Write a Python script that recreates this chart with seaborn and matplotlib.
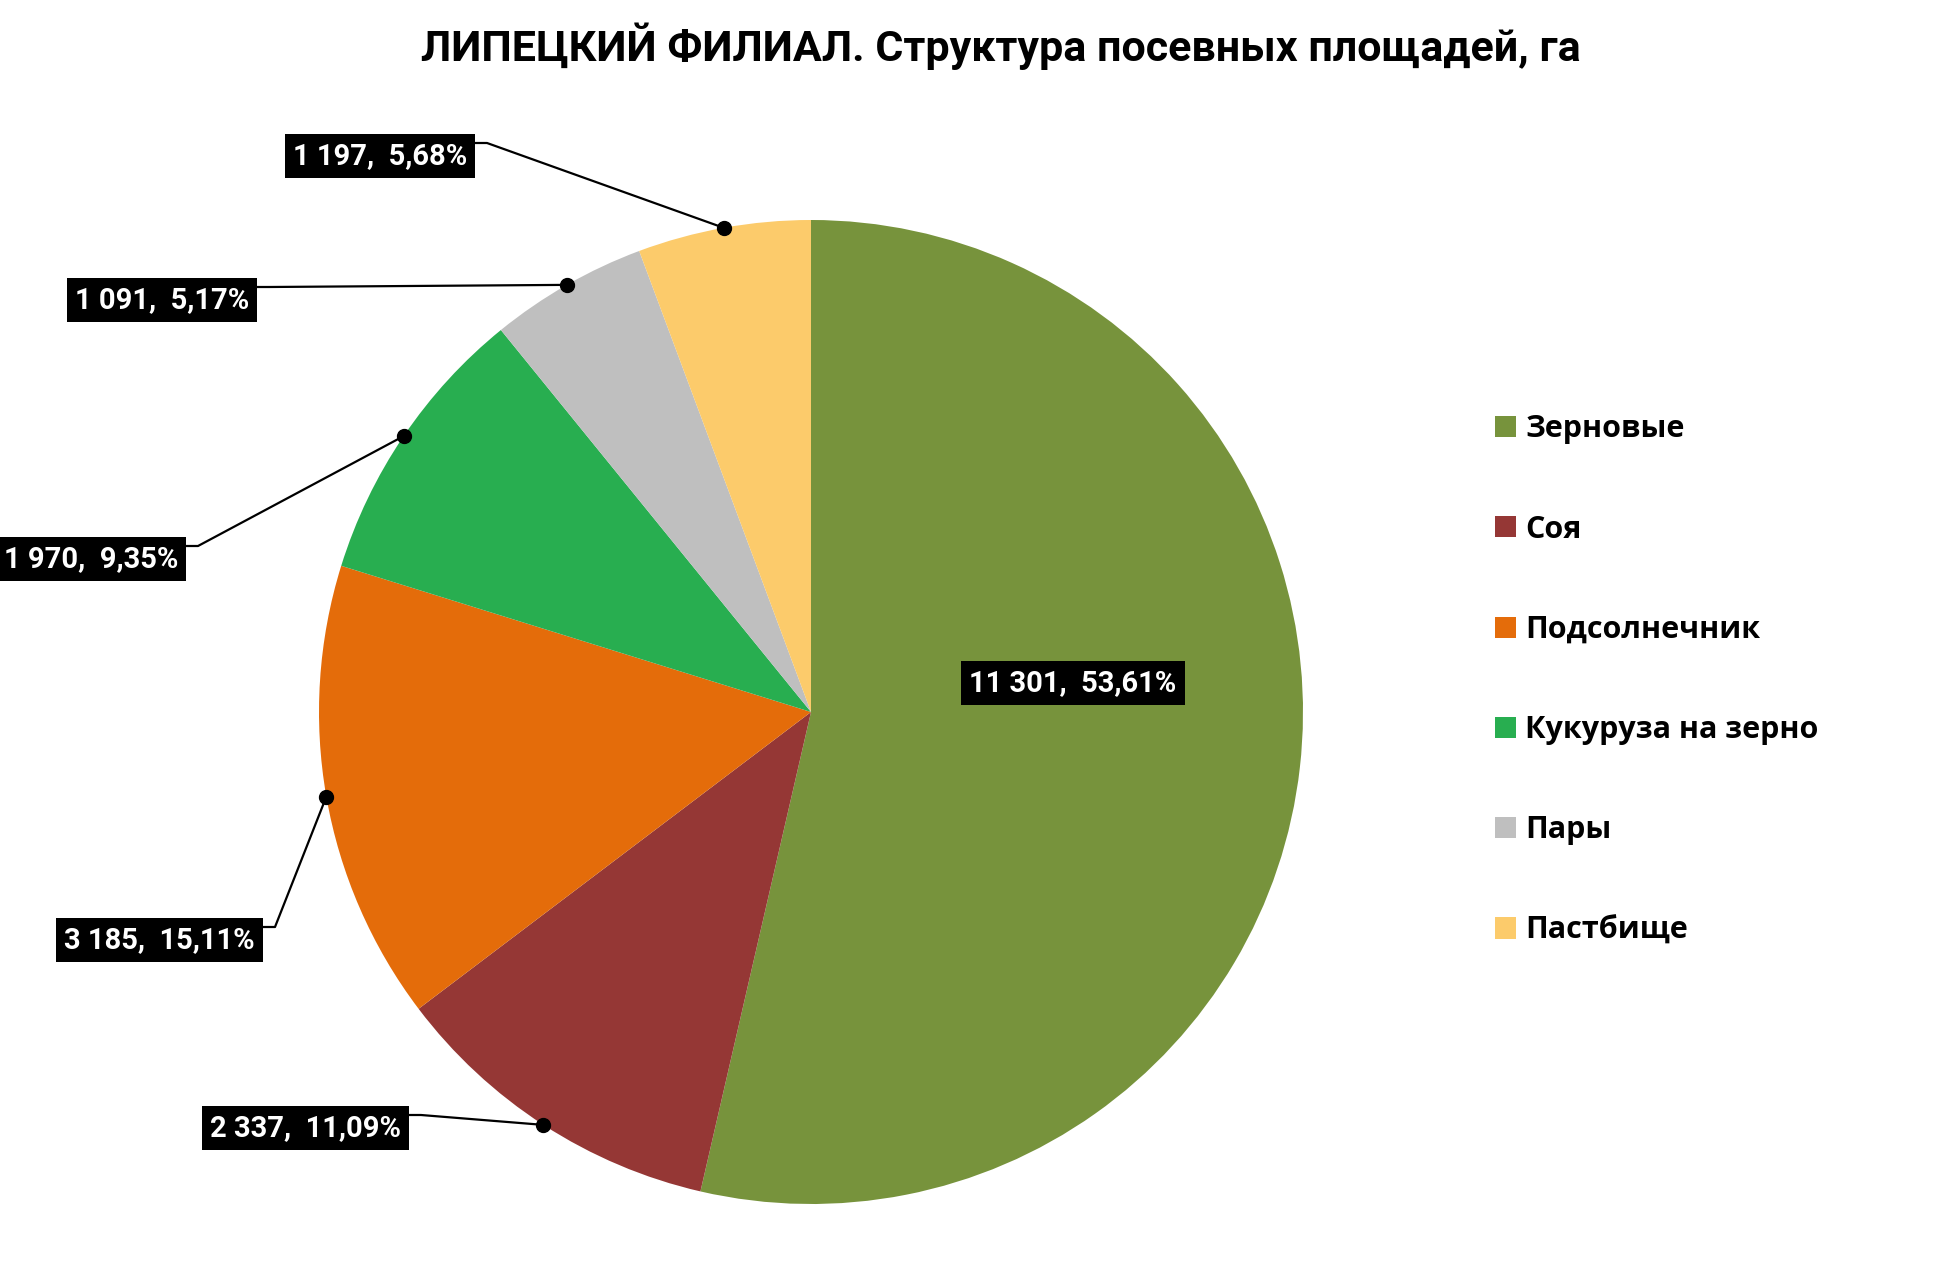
import numpy as np
import seaborn as sns
import matplotlib.pyplot as plt

sns.set_theme(style='white')
plt.rcParams['text.color'] = 'black'

categories = ['Зерновые', 'Соя', 'Подсолнечник', 'Кукуруза на зерно', 'Пары', 'Пастбище']
areas = [11301, 2337, 3185, 1970, 1091, 1197]
shares = ['53,61%', '11,09%', '15,11%', '9,35%', '5,17%', '5,68%']
colors = ['#77933C', '#953735', '#E46C0A', '#28AE50', '#BFBFBF', '#FCCB6B']

narrow = ['Roboto', 'DejaVu Sans']
wide = ['Open Sans', 'DejaVu Sans']

W, H = 1944, 1266
fig = plt.figure(figsize=(W / 100, H / 100), dpi=100)
ax = fig.add_axes([0, 0, 1, 1])

cx, cy, r = 811, H - 712, 492
wedges, _ = ax.pie(areas, colors=colors, startangle=90, counterclock=False,
                   center=(cx, cy), radius=r, frame=True,
                   wedgeprops=dict(linewidth=0))
ax.set_xlim(0, W)
ax.set_ylim(0, H)
ax.axis('off')

def fmt(v):
    return f'{v:,}'.replace(',', ' ')

# label anchors: (right edge of box, centre y from top); None = inside
anchors = [None, (409, 1128), (263, 940), (186, 559), (257, 300), (475, 156)]

frac = np.array(areas) / sum(areas)
cum = np.cumsum(frac) - frac / 2
mid = np.deg2rad(90 - 360 * cum)

box = dict(boxstyle='square,pad=0.28', fc='black', ec='none')
for i, a in enumerate(anchors):
    txt = f'{fmt(areas[i])},  {shares[i]}'
    if a is None:
        ax.text(1073, H - 683, txt, ha='center', va='center', color='white',
                fontsize=21, fontweight='bold', family=narrow, bbox=box)
        continue
    xr, yc = a
    ax.text(xr - 8, H - yc, txt, ha='right', va='center', color='white',
            fontsize=21, fontweight='bold', family=narrow, bbox=box, zorder=5)
    px, py = cx + r * np.cos(mid[i]), cy + r * np.sin(mid[i])
    ys = H - yc + 13
    ax.plot([xr, xr + 12, px], [ys, ys, py], color='black', lw=1.6, zorder=4)
    ax.plot(px, py, 'o', color='black', ms=10, zorder=6)

fig.text(1001 / W, 1 - 46 / H, 'ЛИПЕЦКИЙ ФИЛИАЛ. Структура посевных площадей, га',
         ha='center', va='center', fontsize=31, fontweight='bold', family=narrow)

leg = ax.legend(wedges, categories, loc='center left',
                bbox_to_anchor=(1495, H - 680), bbox_transform=ax.transData,
                frameon=False, borderpad=0, borderaxespad=0,
                handlelength=0.69, handleheight=0.69, handletextpad=0.3,
                labelspacing=2.3, prop=dict(family=wide, weight='bold', size=22))

fig.savefig('out.png', dpi=100, facecolor='white')
